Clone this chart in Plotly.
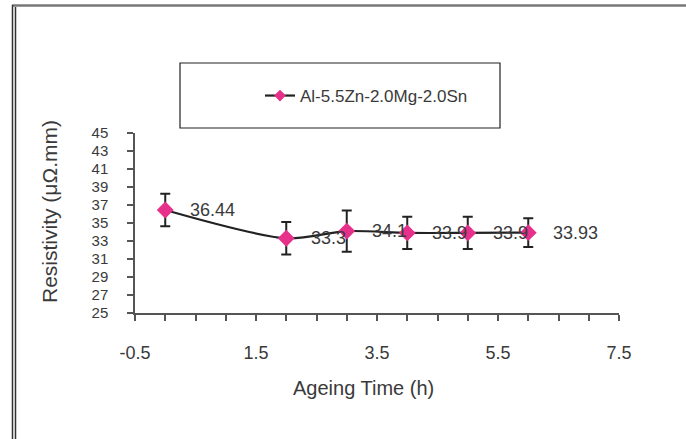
import plotly.graph_objects as go

# ---- data ----
ageing_time = [0, 2, 3, 4, 5, 6]
resistivity = [36.44, 33.3, 34.1, 33.9, 33.9, 33.93]
error_vals = [1.8, 1.8, 2.3, 1.8, 1.8, 1.6]
point_labels = ["36.44", "33.3", "34.1", "33.9", "33.9", "33.93"]
series_name = "Al-5.5Zn-2.0Mg-2.0Sn"
x_title = "Ageing Time (h)"
y_title = "Resistivity (μΩ.mm)"

x_tickvals = [-0.5 + 0.5 * i for i in range(17)]
x_labelled = [-0.5, 1.5, 3.5, 5.5, 7.5]
x_ticktext = [("%g" % v if v in x_labelled else "") for v in x_tickvals]
y_tickvals = list(range(25, 46, 2))

# ---- layout geometry ----
W, H = 686, 439
L, R, T, B = 135, 67, 133, 126
PW, PH = W - L - R, H - T - B

def px_x(p):
    return (p - L) / PW

def px_y(p):
    return 1 - (p - T) / PH

FONT = "Liberation Sans, Arial, sans-serif"
TXT = "#3a3a3a"
AX = "#555555"
PINK = "#E6308A"

fig = go.Figure()
fig.add_trace(go.Scatter(
    x=ageing_time, y=resistivity, name=series_name,
    mode="lines+markers", showlegend=False,
    line=dict(color="#222222", width=2.2, shape="spline", smoothing=0.8),
    marker=dict(symbol="diamond", size=13, color=PINK, line=dict(width=0)),
    error_y=dict(type="data", array=error_vals, visible=True,
                 color="#222222", thickness=2, width=5),
))
# legend entry (smaller symbol, as in the original legend)
fig.add_trace(go.Scatter(
    x=[None], y=[None], name=series_name, mode="lines+markers",
    line=dict(color="#222222", width=2.2),
    marker=dict(symbol="diamond", size=9, color=PINK, line=dict(width=0)),
))

annotations = []
for xv, yv, lab in zip(ageing_time, resistivity, point_labels):
    annotations.append(dict(x=xv, y=yv, text=lab, showarrow=False,
                            xanchor="left", yanchor="middle", xshift=23,
                            font=dict(family=FONT, size=18, color=TXT)))
annotations.append(dict(xref="paper", yref="paper", x=px_x(363), y=px_y(388),
                        text=x_title, showarrow=False, xanchor="center",
                        yanchor="middle",
                        font=dict(family=FONT, size=20, color=TXT)))
annotations.append(dict(xref="paper", yref="paper", x=px_x(49), y=px_y(212),
                        text=y_title, showarrow=False, textangle=-90,
                        xanchor="center", yanchor="middle",
                        font=dict(family=FONT, size=21, color=TXT)))

shapes = [
    # legend box
    dict(type="rect", xref="paper", yref="paper",
         x0=px_x(180), x1=px_x(500), y0=px_y(128), y1=px_y(63),
         line=dict(color="#222222", width=1.2), fillcolor="rgba(0,0,0,0)"),
    # outer frame: top line and double left line
    dict(type="line", xref="paper", yref="paper",
         x0=px_x(12), x1=px_x(690), y0=px_y(5.5), y1=px_y(5.5),
         line=dict(color="#777777", width=2.5)),
    dict(type="line", xref="paper", yref="paper",
         x0=px_x(12.5), x1=px_x(12.5), y0=px_y(5), y1=px_y(445),
         line=dict(color="#333333", width=1.5)),
    dict(type="line", xref="paper", yref="paper",
         x0=px_x(15.5), x1=px_x(15.5), y0=px_y(7), y1=px_y(445),
         line=dict(color="#333333", width=1.5)),
]

fig.update_layout(
    width=W, height=H,
    margin=dict(l=L, r=R, t=T, b=B, autoexpand=False),
    paper_bgcolor="white", plot_bgcolor="white",
    font=dict(family=FONT, color=TXT, size=17),
    showlegend=True,
    legend=dict(x=px_x(260), y=px_y(96), xanchor="left", yanchor="middle",
                bgcolor="rgba(0,0,0,0)", borderwidth=0,
                font=dict(family=FONT, size=17, color=TXT)),
    annotations=annotations,
    shapes=shapes,
    xaxis=dict(range=[-0.5, 7.5], tickmode="array", tickvals=x_tickvals,
               ticktext=x_ticktext, ticks="outside", ticklen=6,
               tickcolor=AX, tickwidth=1.5, showline=True, linecolor=AX,
               linewidth=1.5, showgrid=False, zeroline=False,
               ticklabelstandoff=17,
               tickfont=dict(family=FONT, size=18, color=TXT)),
    yaxis=dict(range=[25, 45], tickmode="array", tickvals=y_tickvals,
               ticks="outside", ticklen=6, tickcolor=AX, tickwidth=1.5,
               showline=True, linecolor=AX, linewidth=1.5,
               showgrid=False, zeroline=False, ticklabelstandoff=16,
               tickfont=dict(family=FONT, size=15, color=TXT)),
)

fig.write_html("out.html")
